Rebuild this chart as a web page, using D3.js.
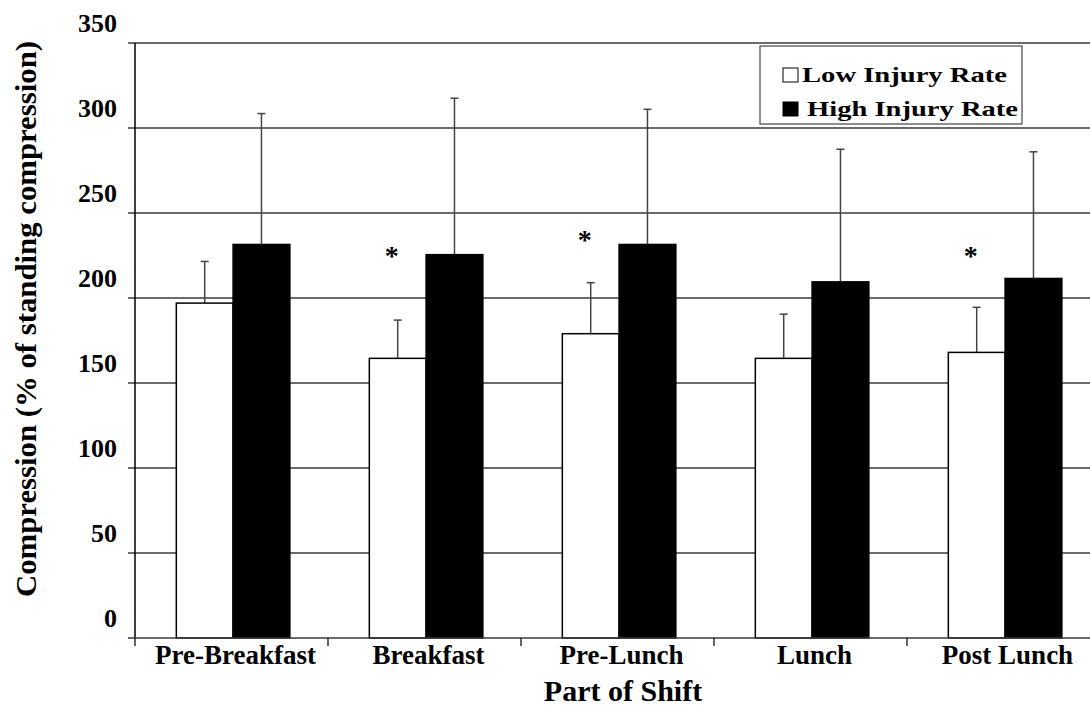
<!DOCTYPE html>
<html>
<head>
<meta charset="utf-8">
<script src="https://cdn.jsdelivr.net/npm/d3@7"></script>
<style>
  body { margin: 0; background: #fff; }
  text { font-family: "Liberation Serif", "Times New Roman", serif; font-weight: bold; fill: #000; }
</style>
</head>
<body>
<script>
// data
var categories = ["Pre-Breakfast", "Breakfast", "Pre-Lunch", "Lunch", "Post Lunch"];
var seriesNames = ["Low Injury Rate", "High Injury Rate"];
var lowValues = [197, 164.5, 179, 164.5, 168];
var lowErrors = [24.5, 22.5, 30, 26, 26.5];
var highValues = [231.5, 225.5, 231.5, 209.5, 211.5];
var highErrors = [77, 92, 79.5, 78, 74.5];
// height (in chart units) of the significance stars, null = no star
var starValues = [null, 229, 238, null, 229];
var yTicks = [0, 50, 100, 150, 200, 250, 300, 350];

var svgWidth = 1090;
var svgHeight = 707;

var margin = { top: 43, right: -10, bottom: 69, left: 135 };
var chartwidth = svgWidth - margin.left - margin.right;
var chartheight = svgHeight - margin.top - margin.bottom;

var svg = d3.select("body")
    .append("svg")
    .attr("width", svgWidth)
    .attr("height", svgHeight);

var chartgroup = svg.append("g")
    .attr("transform", `translate(${margin.left}, ${margin.top})`);

// scales
var xscale = d3.scaleBand()
    .domain(categories)
    .range([0, chartwidth]);

var xsub = d3.scaleBand()
    .domain(seriesNames)
    .range([0, xscale.bandwidth()])
    .paddingOuter(0.7)
    .align(0.52);

var yscale = d3.scaleLinear()
    .domain([0, 350])
    .range([chartheight, 0]);

// gridlines
chartgroup.append("g")
    .selectAll("line")
    .data(yTicks.filter(d => d > 0))
    .enter()
    .append("line")
    .attr("x1", -7)
    .attr("x2", chartwidth)
    .attr("y1", d => yscale(d))
    .attr("y2", d => yscale(d))
    .attr("stroke", "#3a3a3a")
    .attr("stroke-width", 1.5);

// y tick labels sit above their gridlines
chartgroup.append("g")
    .selectAll("text")
    .data(yTicks)
    .enter()
    .append("text")
    .attr("x", -18)
    .attr("y", d => yscale(d) - 11)
    .attr("text-anchor", "end")
    .style("font-size", "26px")
    .text(d => d);

// build one row per bar
var rows = [];
categories.forEach(function(c, i) {
    rows.push({ cat: c, series: seriesNames[0], value: lowValues[i], err: lowErrors[i], fill: "#fff" });
    rows.push({ cat: c, series: seriesNames[1], value: highValues[i], err: highErrors[i], fill: "#000" });
});

// error bars
var errgroup = chartgroup.append("g")
    .attr("stroke", "#444")
    .attr("stroke-width", 1.5);

errgroup.selectAll("line.stem")
    .data(rows)
    .enter()
    .append("line")
    .attr("class", "stem")
    .attr("x1", d => xscale(d.cat) + xsub(d.series) + xsub.bandwidth() / 2)
    .attr("x2", d => xscale(d.cat) + xsub(d.series) + xsub.bandwidth() / 2)
    .attr("y1", d => yscale(d.value))
    .attr("y2", d => yscale(d.value + d.err));

errgroup.selectAll("line.cap")
    .data(rows)
    .enter()
    .append("line")
    .attr("class", "cap")
    .attr("x1", d => xscale(d.cat) + xsub(d.series) + xsub.bandwidth() / 2 - 4)
    .attr("x2", d => xscale(d.cat) + xsub(d.series) + xsub.bandwidth() / 2 + 4)
    .attr("y1", d => yscale(d.value + d.err))
    .attr("y2", d => yscale(d.value + d.err));

// bars
chartgroup.append("g")
    .selectAll("rect")
    .data(rows)
    .enter()
    .append("rect")
    .attr("x", d => xscale(d.cat) + xsub(d.series))
    .attr("y", d => yscale(d.value))
    .attr("width", xsub.bandwidth())
    .attr("height", d => chartheight - yscale(d.value))
    .attr("fill", d => d.fill)
    .attr("stroke", "#000")
    .attr("stroke-width", 1.5);

// significance stars
chartgroup.append("g")
    .selectAll("text")
    .data(categories.map((c, i) => ({ cat: c, v: starValues[i] })).filter(d => d.v !== null))
    .enter()
    .append("text")
    .attr("x", d => xscale(d.cat) + xsub(seriesNames[0]) + xsub.bandwidth() / 2 - 6)
    .attr("y", d => yscale(d.v) + 16)
    .attr("text-anchor", "middle")
    .style("font-size", "28px")
    .text("*");

// left axis line
chartgroup.append("line")
    .attr("x1", 0).attr("x2", 0)
    .attr("y1", 0).attr("y2", chartheight)
    .attr("stroke", "#000")
    .attr("stroke-width", 1.5);

// bottom axis
var bottomaxis = d3.axisBottom(xscale).tickSize(0).tickPadding(0).tickFormat("");
var xaxis = chartgroup.append("g")
    .attr("transform", `translate(0, ${chartheight})`)
    .call(bottomaxis);
xaxis.select(".domain").attr("stroke", "#3a3a3a").attr("stroke-width", 1.5)
    .attr("d", `M-7,0H${chartwidth}`);

// ticks between categories
xaxis.selectAll("line.sep")
    .data(categories)
    .enter()
    .append("line")
    .attr("class", "sep")
    .attr("x1", d => xscale(d))
    .attr("x2", d => xscale(d))
    .attr("y1", 0)
    .attr("y2", 8)
    .attr("stroke", "#000")
    .attr("stroke-width", 1.2);

xaxis.selectAll("text.cat")
    .data(categories)
    .enter()
    .append("text")
    .attr("class", "cat")
    .attr("x", d => xscale(d) + xscale.bandwidth() / 2 + 4)
    .attr("y", 26)
    .attr("text-anchor", "middle")
    .style("font-size", "27px")
    .text(d => d);

// axis titles
svg.append("text")
    .attr("transform", "translate(36, 319) rotate(-90)")
    .attr("text-anchor", "middle")
    .attr("textLength", 556)
    .attr("lengthAdjust", "spacingAndGlyphs")
    .style("font-size", "30px")
    .text("Compression (% of standing compression)");

svg.append("text")
    .attr("x", 623)
    .attr("y", 701)
    .attr("text-anchor", "middle")
    .style("font-size", "30px")
    .text("Part of Shift");

// legend
var legend = svg.append("g");
legend.append("rect")
    .attr("x", 760)
    .attr("y", 46)
    .attr("width", 262)
    .attr("height", 78)
    .attr("fill", "#fff")
    .attr("stroke", "#444")
    .attr("stroke-width", 1.2);

var legendItems = legend.selectAll("g.item")
    .data(seriesNames)
    .enter()
    .append("g")
    .attr("class", "item")
    .attr("transform", (d, i) => `translate(783, ${68 + i * 34})`);

legendItems.append("rect")
    .attr("width", 15)
    .attr("height", 14)
    .attr("fill", (d, i) => i === 0 ? "#fff" : "#000")
    .attr("stroke", "#000")
    .attr("stroke-width", 1);

legendItems.append("text")
    .attr("x", (d, i) => i === 0 ? 19 : 24)
    .attr("y", 14)
    .attr("textLength", (d, i) => i === 0 ? 205 : 211)
    .attr("lengthAdjust", "spacingAndGlyphs")
    .style("font-size", "21px")
    .text(d => d);
</script>
</body>
</html>
